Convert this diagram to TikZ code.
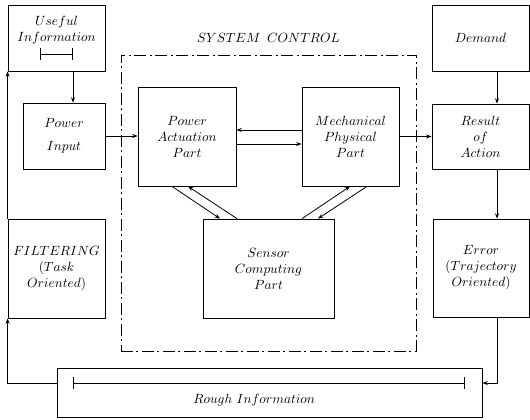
\documentclass[tikz,border=0pt]{standalone}
\usetikzlibrary{arrows.meta,calc}
\begin{document}
\begin{tikzpicture}[x=0.75pt,y=-0.75pt,line width=0.6pt,
  box/.style={draw,rectangle,inner sep=0pt,align=center},
  sz/.style 2 args={minimum width=#1*0.75pt,minimum height=#2*0.75pt},
  arr/.style={-{Stealth[length=4pt,width=3pt]}},
  lbl/.style={inner sep=0pt,align=center},
  ibar/.style={{Bar[width=9pt]}-{Bar[width=9pt]}},
  dashdot/.style={dash pattern=on 9pt off 2.25pt on 1.5pt off 3pt}]
\useasboundingbox (0,0) rectangle (530,419);
% system control frame
\node[draw,dashdot,inner sep=0pt,sz={295}{296}] (sys) at (268.5,203) {};
\node[lbl] (systxt) at (268.5,38) {$SYSTEM$\hspace{5pt}$CONTROL$};
% boxes
\node[box,sz={97}{66}] (useful) at (56.5,38) {};
\node[lbl] (usefultxt) at (56.5,30) {$Useful$\\$Information$};
\coordinate (ub1) at (40,54);
\coordinate (ub2) at (73,54);
\draw[ibar] (ub1) -- (ub2);
\node[box,sz={82}{66}] (pinput) at (64,136) {$Power$\\[5pt]$Input$};
\node[box,sz={98}{99}] (pa) at (187,136.5) {$Power$\\$Actuation$\\$Part$};
\node[box,sz={97}{99}] (mech) at (350.5,136.5) {$Mechanical$\\$Physical$\\$Part$};
\node[box,sz={131}{99}] (sensor) at (268.5,268.5) {$Sensor$\\$Computing$\\$Part$};
\node[box,sz={97}{66}] (demand) at (480.5,38) {$Demand$};
\node[box,sz={97}{65}] (result) at (480.5,136.5) {$Result$\\$of$\\$Action$};
\node[box,sz={96}{98}] (error) at (481,268) {$Error$\\$(Trajectory$\\$Oriented)$};
\node[box,sz={97}{99}] (filter) at (56.5,268.5) {$FILTERING$\\$(Task$\\$Oriented)$};
\node[box,sz={425}{49}] (rough) at (269.5,392.5) {};
\node[lbl,anchor=west] (roughtxt) at (193,400) {$Rough\ Information$};
\coordinate (rb1) at (73,383);
\coordinate (rb2) at (465,383);
\draw[ibar] (rb1) -- (rb2);
% connectors
\coordinate (xa) at (73,0);
\coordinate (xr) at (497,0);
\coordinate (yb) at (0,383);
\draw[arr] (useful.south -| xa) -- (pinput.north -| xa);
\draw[arr] (pinput.east) -- (pa.west |- pinput.east);
\draw[arr] ([yshift=4.9pt]mech.west) -- ([yshift=4.9pt]pa.east);
\draw[arr] ([yshift=-5.6pt]pa.east) -- ([yshift=-5.6pt]mech.west);
\draw[arr] (mech.east) -- (result.west |- mech.east);
\draw[arr] (demand.south -| xr) -- (result.north -| xr);
\draw[arr] (result.south -| xr) -- (error.north -| xr);
\draw[arr] (error.south -| xr) |- (rough.east |- yb);
\draw[arr] (rough.west |- yb) -| (filter.south west);
\draw[arr] (filter.north west) -- (useful.south west);
% diagonals
\coordinate (d1) at (172,0);
\coordinate (d2) at (220,0);
\coordinate (d3) at (237,0);
\coordinate (d4) at (188,0);
\coordinate (d5) at (302,0);
\coordinate (d6) at (350,0);
\coordinate (d7) at (367,0);
\coordinate (d8) at (318,0);
\draw[arr] (pa.south -| d1) -- (sensor.north -| d2);
\draw[arr] (sensor.north -| d3) -- (pa.south -| d4);
\draw[arr] (sensor.north -| d5) -- (mech.south -| d6);
\draw[arr] (mech.south -| d7) -- (sensor.north -| d8);
\end{tikzpicture}
\end{document}
